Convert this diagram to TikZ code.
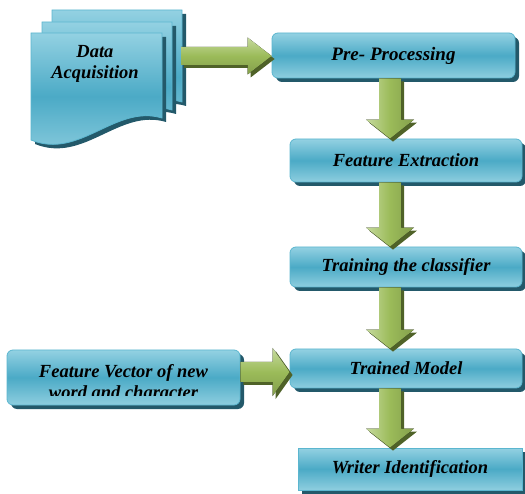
\documentclass[tikz,border=0pt]{standalone}
\usepackage{fontspec}
\setmainfont{Liberation Serif}
\usetikzlibrary{calc,shadows}
\definecolor{boxtop}{HTML}{93D1E2}
\definecolor{boxmid}{HTML}{4BAAC6}
\definecolor{boxbot}{HTML}{8ECEDF}
\definecolor{boxedge}{HTML}{5BB6CF}
\definecolor{boxshadow}{HTML}{23596A}
\definecolor{arrowlight}{HTML}{C6DA9E}
\definecolor{arrowmid}{HTML}{9BBB59}
\definecolor{arrowdark}{HTML}{4F6228}
\tikzset{
  txt/.style={font=\fontsize{18.5}{21}\selectfont\bfseries\itshape, text=black},
  flowbox/.style={draw=boxedge, line width=0.8pt, rounded corners=6pt,
    top color=boxtop, bottom color=boxbot, middle color=boxmid,
    txt, inner sep=0pt,
    drop shadow={shadow xshift=4pt, shadow yshift=-4pt, fill=boxshadow, opacity=1}},
  squarebox/.style={flowbox, rounded corners=0pt},
  docpage/.style={draw=boxedge, line width=0.8pt,
    top color=boxtop, bottom color=boxbot, middle color=boxmid,
    drop shadow={shadow xshift=4pt, shadow yshift=-4pt, fill=boxshadow, opacity=1}},
}
% vertical block arrow: #1 source node, #2 target node, #3 x position
\newcommand\vblk[3]{%
  \fill[arrowdark, transform canvas={xshift=3pt,yshift=-3pt}]
    let \p1=(#1.south), \p2=(#2.north), \p3=(#3,0) in
    (\x3-11pt,\y1) -- (\x3-11pt,\y2+19pt) -- (\x3-24pt,\y2+19pt) -- (\x3,\y2)
    -- (\x3+24pt,\y2+19pt) -- (\x3+11pt,\y2+19pt) -- (\x3+11pt,\y1) -- cycle;
  \fill[left color=arrowlight, right color=arrowmid!85!black, middle color=arrowmid]
    let \p1=(#1.south), \p2=(#2.north), \p3=(#3,0) in
    (\x3-11pt,\y1) -- (\x3-11pt,\y2+19pt) -- (\x3-24pt,\y2+19pt) -- (\x3,\y2)
    -- (\x3+24pt,\y2+19pt) -- (\x3+11pt,\y2+19pt) -- (\x3+11pt,\y1) -- cycle;
}
% horizontal block arrow: #1 start, #2 tip, #3 y, #4 shaft half, #5 head half, #6 head length
\newcommand\hblk[6]{%
  \fill[arrowdark, transform canvas={xshift=3pt,yshift=-3pt}]
    let \p1=(#1), \p2=(#2), \p3=(0,#3) in
    (\x1,\y3+#4pt) -- (\x2-#6pt,\y3+#4pt) -- (\x2-#6pt,\y3+#5pt) -- (\x2,\y3)
    -- (\x2-#6pt,\y3-#5pt) -- (\x2-#6pt,\y3-#4pt) -- (\x1,\y3-#4pt) -- cycle;
  \fill[top color=arrowlight, bottom color=arrowmid!85!black, middle color=arrowmid]
    let \p1=(#1), \p2=(#2), \p3=(0,#3) in
    (\x1,\y3+#4pt) -- (\x2-#6pt,\y3+#4pt) -- (\x2-#6pt,\y3+#5pt) -- (\x2,\y3)
    -- (\x2-#6pt,\y3-#5pt) -- (\x2-#6pt,\y3-#4pt) -- (\x1,\y3-#4pt) -- cycle;
}
\begin{document}
\begin{tikzpicture}[x=1pt,y=-1pt]
\useasboundingbox (0,0) rectangle (525,494);

% documents (Data Acquisition)
\path[docpage] (52,10) -- (182,10) -- (182,102) .. controls (135,88) and (100,144) .. (52,124) -- cycle;
\path[docpage] (42,22) -- (172,22) -- (172,110) .. controls (125,96) and (90,152) .. (42,132) -- cycle;
\path[docpage] (31,33) -- (162,33) -- (162,118) .. controls (115,104) and (80,160) .. (31,140) -- cycle;
\node[txt, align=center, inner sep=0pt] (da) at (95,64) {Data\\Acquisition};
\coordinate (daout) at (181,56);

% process boxes
\node[flowbox, minimum width=243pt, minimum height=45pt, font=\fontsize{19}{21}\selectfont\bfseries\itshape] (pre) at (393.5,55.5) {Pre- Processing};
\node[flowbox, minimum width=232pt, minimum height=43pt] (fe) at (406,160.5) {Feature Extraction};
\node[flowbox, minimum width=232pt, minimum height=40pt] (tr) at (406,267) {Training the classifier};
\node[flowbox, minimum width=232pt, minimum height=39pt] (tm) at (406,368.5) {Trained Model};
\node[squarebox, minimum width=224pt, minimum height=42pt] (wi) at (410,469) {Writer Identification};
\node[flowbox, minimum width=233pt, minimum height=55pt] (fv) at (123.5,377.5) {};
\begin{scope}
  \clip ($(fv.north west)+(2,2)$) rectangle ($(fv.south east)+(-2,-10)$);
  \node[txt, align=center, inner sep=0pt] (fvtext) at (123.5,382) {Feature Vector of new\\word and character};
\end{scope}

% block arrows
\hblk{daout}{pre.west}{56}{9}{18.5}{24}
\hblk{fv.east}{tm.west}{372}{10}{24}{17}
\vblk{pre}{fe}{390}
\vblk{fe}{tr}{390}
\vblk{tr}{tm}{390}
\vblk{tm}{wi}{390}
\end{tikzpicture}
\end{document}
